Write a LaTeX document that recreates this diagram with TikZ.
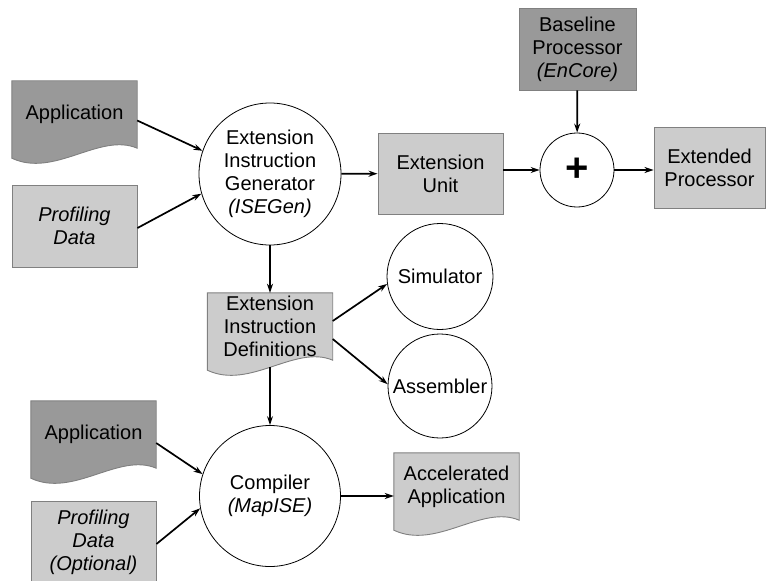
\documentclass[tikz,border=0pt]{standalone}
\usepackage{fontspec}
\setmainfont{Liberation Sans}
\usetikzlibrary{arrows.meta,calc,backgrounds}
\definecolor{darkfill}{HTML}{999999}
\definecolor{lightfill}{HTML}{CCCCCC}
\definecolor{edgegray}{HTML}{808080}

\tikzset{
  base/.style={font=\fontsize{20}{23}\selectfont, align=center, inner sep=0pt, text=black},
  it/.style={font=\fontsize{20}{23}\selectfont\itshape},
  box/.style={base, rectangle, draw=edgegray, line width=0.9pt},
  darkbox/.style={box, fill=darkfill},
  lightbox/.style={box, fill=lightfill},
  doc/.style={base, rectangle, minimum width=125pt, minimum height=67pt},
  round/.style={base, circle, draw=black, line width=0.8pt, fill=white},
  flow/.style={-{Stealth[length=9pt,width=6pt]}, line width=1.7pt, black},
}

% document shape: a box whose bottom edge is a wave
\newcommand{\docwave}[2]{%
  \path[fill=#2, draw=edgegray, line width=0.9pt]
    (#1.north west) -- (#1.north east) -- (#1.south east)
    .. controls ($(#1.south east)!0.3!(#1.south west)+(0,-16)$)
            and ($(#1.south west)!0.34!(#1.south east)+(0,30)$)
    .. ($(#1.south west)+(0,10)$) -- cycle;
}

\begin{document}
\begin{tikzpicture}[x=1pt,y=-1pt]
\useasboundingbox (0,0) rectangle (767,580);

% inputs of the instruction generator
\node[doc] (app1) at (74.5,114.5) {Application};
\node[lightbox, it, minimum width=125pt, minimum height=82pt] (prof1) at (74.5,226) {Profiling\\Data};

% generator and processor extension
\node[round, minimum size=142pt] (isegen) at (270,174) {Extension\\Instruction\\Generator\\\textit{(ISEGen)}};
\node[lightbox, minimum width=125pt, minimum height=81pt] (extunit) at (440.5,173.5) {Extension\\Unit};
\node[round, minimum size=74pt, font=\fontsize{40}{40}\selectfont\bfseries] (plus) at (577,170) {+};
\node[darkbox, minimum width=117pt, minimum height=82pt] (baseline) at (577.5,49) {Baseline\\Processor\\\textit{(EnCore)}};
\node[lightbox, minimum width=111pt, minimum height=81pt] (extended) at (709.5,167.5) {Extended\\Processor};

% instruction definitions and tools
\node[doc] (eid) at (270,326.5) {Extension\\Instruction\\Definitions};
\node[round, minimum size=106pt] (sim) at (440,276.5) {Simulator};
\node[round, minimum size=104pt] (asm) at (440,386) {Assembler};

% compilation
\node[doc] (app2) at (93.5,434.5) {Application};
\node[lightbox, it, minimum width=125pt, minimum height=82pt] (prof2) at (93.5,542) {Profiling\\Data\\(Optional)};
\node[round, minimum size=141pt] (compiler) at (270,496) {Compiler\\\textit{(MapISE)}};
\node[doc] (accel) at (456.5,486.5) {Accelerated\\Application};

\begin{scope}[on background layer]
  \docwave{app1}{darkfill}
  \docwave{eid}{lightfill}
  \docwave{app2}{darkfill}
  \docwave{accel}{lightfill}
\end{scope}

% connectors
\draw[flow] ($(app1.east)+(0,6)$) -- (isegen.161);
\draw[flow] ($(prof1.east)+(0,2)$) -- (isegen.196);
\draw[flow] (isegen) -- (extunit);
\draw[flow] (extunit.east |- plus) -- (plus.west);
\draw[flow] (plus) -- (plus -| extended.west);
\draw[flow] (baseline) -- (plus);
\draw[flow] (isegen) -- (eid);
\draw[flow] ($(eid.south)+(0,7)$) -- (compiler.north);
\draw[flow] ($(eid.east)+(0,-5.5)$) -- (sim.188);
\draw[flow] ($(eid.east)+(0,12.5)$) -- (asm.178);
\draw[flow] ($(app2.east)+(0,8.5)$) -- (compiler.162);
\draw[flow] ($(prof2.east)+(0,2)$) -- (compiler.190);
\draw[flow] (compiler) -- (compiler -| accel.west);
\end{tikzpicture}
\end{document}
